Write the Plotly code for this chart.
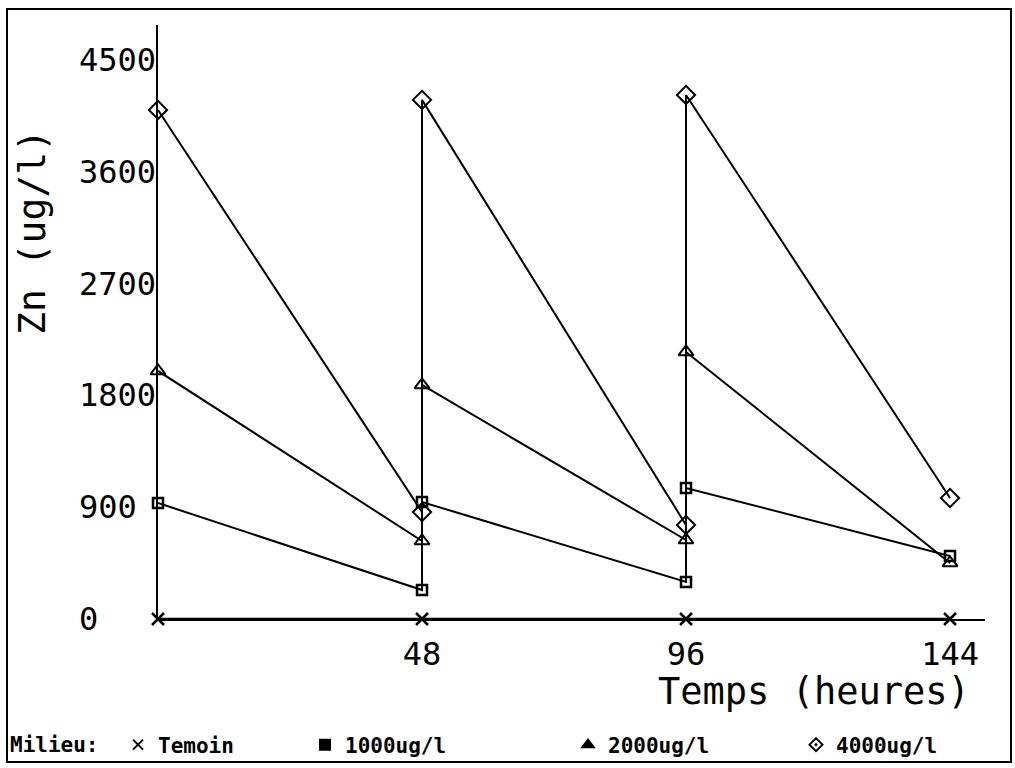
import plotly.graph_objects as go

# ---- data ----
hours = [0, 48, 48, 96, 96, 144]          # sampling times (renewal at 48 and 96 h)
temoin_hours = [0, 48, 96, 144]
temoin = [0, 0, 0, 0]
zn_1000 = [934, 233, 942, 298, 1055, 507]
zn_2000 = [1997, 628, 1884, 636, 2150, 451]
zn_4000 = [4098, 861, 4179, 757, 4219, 974]
y_ticks = [0, 900, 1800, 2700, 3600, 4500]
x_ticks = [48, 96, 144]
series_names = ["Temoin", "1000ug/l", "2000ug/l", "4000ug/l"]

# ---- layout (page pixels) ----
W, H = 1015, 768
FONT = "DejaVu Sans Mono"
BLACK = "#000000"
legend_text_x = [160, 347, 610, 838]      # where each legend label starts (px)
legend_symbols = ["x-thin", "square", "triangle-up", "diamond-open-dot"]


def px(x):  # x pixel -> paper fraction
    return x / W


def py(y):  # y pixel (from top) -> paper fraction
    return (H - y) / H


fig = go.Figure()

line_style = dict(color=BLACK, width=2)

fig.add_trace(go.Scatter(x=temoin_hours, y=temoin, mode="lines+markers",
                         line=dict(color=BLACK, width=2.5),
                         marker=dict(symbol="x-thin", size=12, line=dict(color=BLACK, width=2.5)),
                         showlegend=False, cliponaxis=False))
fig.add_trace(go.Scatter(x=hours, y=zn_1000, mode="lines+markers", line=line_style,
                         marker=dict(symbol="square-open", size=10, color=BLACK, line=dict(width=2.5)),
                         showlegend=False, cliponaxis=False))
fig.add_trace(go.Scatter(x=hours, y=zn_2000, mode="lines+markers", line=line_style,
                         marker=dict(symbol="triangle-up-open", size=13, color=BLACK, line=dict(width=2)),
                         showlegend=False, cliponaxis=False))
fig.add_trace(go.Scatter(x=hours, y=zn_4000, mode="lines+markers", line=line_style,
                         marker=dict(symbol="diamond-open", size=14, color=BLACK, line=dict(width=2)),
                         showlegend=False, cliponaxis=False))

# legend-only entries (symbols only, like the plotter legend), one legend box each
legend_font = dict(family=FONT, size=21, color=BLACK, weight="bold")
legend_layouts = {}
for i, (name, sym, tx) in enumerate(zip(series_names, legend_symbols, legend_text_x)):
    key = "legend" if i == 0 else f"legend{i + 1}"
    fig.add_trace(go.Scatter(x=[None], y=[None], mode="markers", name=name,
                             legend=key,
                             marker=dict(symbol=sym, size=10, color=BLACK,
                                         line=dict(color=BLACK, width=2))))
    legend_layouts[key] = dict(orientation="h", x=px(tx - 42), xanchor="left",
                               y=py(745), yanchor="middle",
                               bgcolor="rgba(0,0,0,0)", borderwidth=0,
                               font=legend_font)

fig.add_annotation(x=px(8), xref="paper", y=py(745), yref="paper", text="Milieu:",
                   showarrow=False, xanchor="left", yanchor="middle", font=legend_font)

# left-aligned y tick labels (the plotter wrote them flush left)
for v in y_ticks:
    fig.add_annotation(x=px(77), xref="paper", y=v, yref="y", text=str(v),
                       showarrow=False, xanchor="left", yanchor="middle",
                       font=dict(family=FONT, size=32, color=BLACK))

# axis titles
fig.add_annotation(x=px(972), xref="paper", y=py(691), yref="paper",
                   text="Temps (heures)", showarrow=False, xanchor="right", yanchor="middle",
                   font=dict(family=FONT, size=37, color=BLACK))
fig.add_annotation(x=px(32), xref="paper", y=py(232), yref="paper",
                   text="Zn (ug/l)", textangle=-90, showarrow=False,
                   xanchor="center", yanchor="middle",
                   font=dict(family=FONT, size=38, color=BLACK))

# frame around the whole figure
fig.add_shape(type="rect", xref="paper", yref="paper",
              x0=px(7), x1=px(1011), y0=py(762), y1=py(9),
              line=dict(color=BLACK, width=2))

fig.update_layout(
    width=W, height=H, autosize=False,
    margin=dict(l=0, r=0, t=0, b=0),
    paper_bgcolor="white", plot_bgcolor="white",
    font=dict(family=FONT, color=BLACK),
    xaxis=dict(domain=[px(158), px(985)], range=[0, 150.36],
               showgrid=False, zeroline=False, showline=True,
               linecolor=BLACK, linewidth=2,
               tickmode="array", tickvals=x_ticks, ticktext=[str(t) for t in x_ticks],
               ticks="", ticklabelstandoff=6,
               tickfont=dict(family=FONT, size=32, color=BLACK)),
    yaxis=dict(domain=[py(619), py(25)], range=[0, 4782],
               showgrid=False, zeroline=False, showline=True,
               linecolor=BLACK, linewidth=2,
               tickmode="array", tickvals=y_ticks, showticklabels=False, ticks=""),
    showlegend=True,
    **legend_layouts,
)

# place the figure at the page origin (no default body margin, no scrollbars)
fig.write_html(
    "out.html",
    config={"displayModeBar": False},
    post_script="document.body.style.margin='0';"
                "document.body.style.overflow='hidden';"
                "document.documentElement.style.overflow='hidden';",
)
